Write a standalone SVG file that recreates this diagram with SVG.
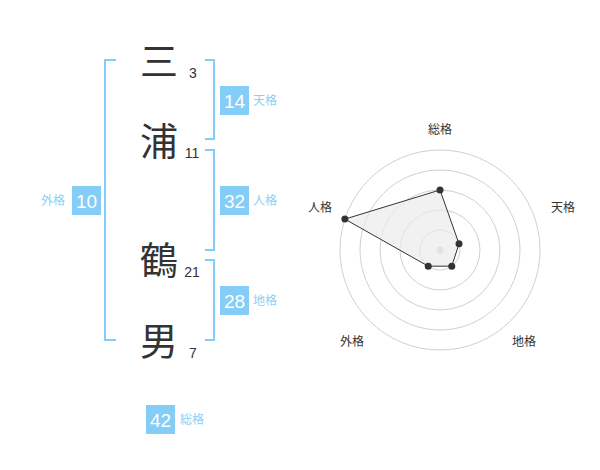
<svg xmlns="http://www.w3.org/2000/svg" width="600" height="470" viewBox="0 0 600 470">
<style>
.big{font-family:"Noto Sans CJK JP","Noto Sans CJK SC",sans-serif;font-size:38px;fill:#333;text-anchor:middle}
.num{font-family:"Liberation Sans",Arial,sans-serif;font-size:14px;fill:#333;text-anchor:middle}
.br{fill:none;stroke:#84cdf7;stroke-width:2}
.box{fill:#84cdf7}
.bn{font-family:"Liberation Sans",Arial,sans-serif;font-size:19px;fill:#fff;text-anchor:middle}
.lb{font-family:"Noto Sans CJK JP","Noto Sans CJK SC",sans-serif;font-size:12px;fill:#8ccff5}
.ring{fill:none;stroke:#d0d0d0;stroke-width:1}
.rl{font-family:"Noto Sans CJK JP","Noto Sans CJK SC",sans-serif;font-size:12px;fill:#333;text-anchor:middle}
.dot{fill:#333}
</style>
<rect width="600" height="470" fill="#fff"/>
<g id="name">
<text class="big" x="159" y="75">三</text>
<text class="big" x="159" y="155">浦</text>
<text class="big" x="159" y="274">鶴</text>
<text class="big" x="159" y="355">男</text>
<text class="num" x="193" y="78">3</text>
<text class="num" x="192" y="158">11</text>
<text class="num" x="192" y="277">21</text>
<text class="num" x="193" y="358">7</text>
</g>
<g id="connectors">
<path class="br" d="M116,60 H105 V340 H116"/>
<path class="br" d="M205,60 H214 V139 H205"/>
<path class="br" d="M205,150 H214 V250 H205"/>
<path class="br" d="M205,260 H214 V340 H205"/>
</g>
<g id="tenkaku">
<rect class="box" x="220" y="86" width="29" height="29"/>
<text class="bn" x="234.5" y="107.5">14</text>
<text class="lb" x="253" y="105">天格</text>
</g>
<g id="jinkaku">
<rect class="box" x="220" y="186" width="29" height="29"/>
<text class="bn" x="234.5" y="207.5">32</text>
<text class="lb" x="253" y="205">人格</text>
</g>
<g id="chikaku">
<rect class="box" x="220" y="286" width="29" height="29"/>
<text class="bn" x="234.5" y="307.5">28</text>
<text class="lb" x="253" y="305">地格</text>
</g>
<g id="gaikaku">
<rect class="box" x="72" y="186" width="29" height="29"/>
<text class="bn" x="86.5" y="207.5">10</text>
<text class="lb" x="41" y="205">外格</text>
</g>
<g id="soukaku">
<rect class="box" x="146" y="405" width="29" height="29"/>
<text class="bn" x="160.5" y="426.5">42</text>
<text class="lb" x="180" y="424">総格</text>
</g>
<g id="radar">
<circle class="ring" cx="440" cy="250" r="20"/>
<circle class="ring" cx="440" cy="250" r="40"/>
<circle class="ring" cx="440" cy="250" r="60"/>
<circle class="ring" cx="440" cy="250" r="80"/>
<circle class="ring" cx="440" cy="250" r="100"/>
<circle cx="440" cy="250" r="3.5" fill="#c8c8c8"/>
<polygon points="440,190 459.02,243.82 451.76,266.18 428.24,266.18 344.89,219.1" fill="#ebebeb" fill-opacity="0.7" stroke="#333" stroke-width="1"/>
<circle class="dot" cx="440" cy="190" r="3.5"/>
<circle class="dot" cx="459.02" cy="243.82" r="3.5"/>
<circle class="dot" cx="451.76" cy="266.18" r="3.5"/>
<circle class="dot" cx="428.24" cy="266.18" r="3.5"/>
<circle class="dot" cx="344.89" cy="219.1" r="3.5"/>
<text class="rl" x="440" y="134">総格</text>
<text class="rl" x="563" y="212">天格</text>
<text class="rl" x="320" y="212">人格</text>
<text class="rl" x="352" y="346">外格</text>
<text class="rl" x="524" y="346">地格</text>
</g>
</svg>
